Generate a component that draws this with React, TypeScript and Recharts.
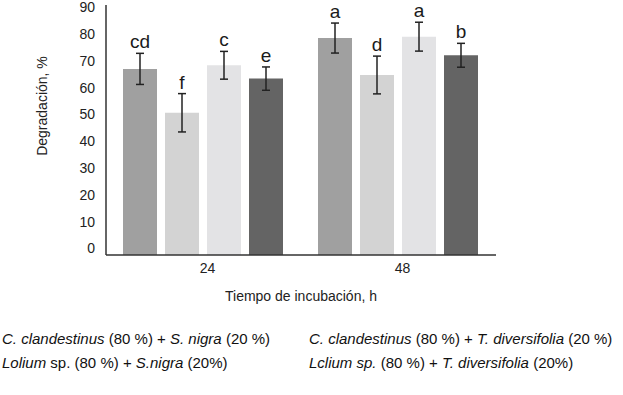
import React from 'react';
import { BarChart, Bar, XAxis, YAxis, ErrorBar, LabelList, Legend } from 'recharts';

const categories = ['24', '48'];
const seriesNames = [
  'C. clandestinus (80 %) + S. nigra (20 %)',
  'Lolium sp. (80 %) + S.nigra (20%)',
  'C. clandestinus (80 %) + T. diversifolia (20 %)',
  'Lclium sp. (80 %) + T. diversifolia (20%)',
];
const s1 = [67.0, 78.1];
const s2 = [51.2, 64.8];
const s3 = [68.3, 78.6];
const s4 = [63.5, 71.9];
const e1 = [5.6, 5.4];
const e2 = [6.9, 6.8];
const e3 = [5.0, 5.2];
const e4 = [4.2, 4.3];
const l1 = ['cd', 'a'];
const l2 = ['f', 'd'];
const l3 = ['c', 'a'];
const l4 = ['e', 'b'];
const yTicks = [0, 10, 20, 30, 40, 50, 60, 70, 80, 90];

const colors = ['#a0a0a0', '#d3d3d3', '#e3e3e5', '#646464'];
const values = [s1, s2, s3, s4];
const errors = [e1, e2, e3, e4];
const letters = [l1, l2, l3, l4];

const data = categories.map((c, i) => ({
  cat: c,
  v0: s1[i], err0: e1[i],
  v1: s2[i], err1: e2[i],
  v2: s3[i], err2: e3[i],
  v3: s4[i], err3: e4[i],
}));

const FONT = '"Liberation Sans", Arial, sans-serif';

const makeLetter = (k: number) => (props: any) => {
  const { x, y, width, height, index } = props;
  const val = values[k][index];
  const err = errors[k][index];
  const ppu = height / val;
  const top = y - err * ppu;
  return (
    <text x={x + width / 2} y={top - 5} textAnchor="middle" fontSize={19} fill="#1a1a1a" fontFamily={FONT}>
      {letters[k][index]}
    </text>
  );
};

const YTick = (props: any) => {
  const { y, payload } = props;
  const ly = 7.3 + (y - 5) * (241 / 250);
  return (
    <text x={95} y={ly} textAnchor="end" dominantBaseline="central" fontSize={14} fill="#222" fontFamily={FONT}>
      {payload.value}
    </text>
  );
};

const LegendContent = () => {
  const item = (parts: Array<[string, boolean]>) => (
    <span>
      {parts.map((p, i) => (
        <span key={i} style={{ fontStyle: p[1] ? 'italic' : 'normal' }}>{p[0]}</span>
      ))}
    </span>
  );
  const rowStyle: React.CSSProperties = { display: 'flex', height: 24, alignItems: 'center' };
  const col1: React.CSSProperties = { width: 309, paddingLeft: 2, boxSizing: 'border-box' };
  return (
    <div style={{ fontFamily: FONT, fontSize: 15, color: '#111', whiteSpace: 'nowrap' }}>
      <div style={rowStyle}>
        <div style={col1}>
          {item([['C. clandestinus', true], [' (80 %) + ', false], ['S. nigra', true], [' (20 %)', false]])}
        </div>
        <div>
          {item([['C. clandestinus', true], [' (80 %) + ', false], ['T. diversifolia', true], [' (20 %)', false]])}
        </div>
      </div>
      <div style={rowStyle}>
        <div style={col1}>
          {item([['Lolium', true], [' sp. (80 %) + ', false], ['S.nigra', true], [' (20%)', false]])}
        </div>
        <div>
          {item([['Lclium sp.', true], [' (80 %) + ', false], ['T. diversifolia', true], [' (20%)', false]])}
        </div>
      </div>
    </div>
  );
};

export default function App() {
  return (
    <div style={{ position: 'absolute', left: 0, top: 0, background: '#fff' }}>
      <BarChart
        width={623}
        height={395}
        data={data}
        margin={{ top: 5, right: 127, left: 0, bottom: 90 }}
        barCategoryGap={17}
        barGap={8}
        style={{ fontFamily: FONT }}
      >
        <XAxis
          dataKey="cat"
          height={50}
          axisLine={{ stroke: '#333', strokeWidth: 1.5 }}
          tickLine={false}
          tick={{ fontSize: 14, fill: '#222', dx: 4, fontFamily: FONT }}
          label={{ value: 'Tiempo de incubación, h', position: 'insideBottom', offset: 4, fontSize: 14, fill: '#222', fontFamily: FONT }}
        />
        <YAxis
          width={106}
          domain={[0, 90]}
          ticks={yTicks}
          interval={0}
          axisLine={{ stroke: '#333', strokeWidth: 1.5 }}
          tickLine={false}
          tick={<YTick />}
          label={{
            content: () => (
              <text x={42} y={106} transform="rotate(-90, 42, 106)" textAnchor="middle" dominantBaseline="central" fontSize={14} fill="#222" fontFamily={FONT}>
                Degradación, %
              </text>
            ),
          }}
        />
        <Legend
          layout="horizontal"
          verticalAlign="middle"
          align="center"
          content={<LegendContent />}
          wrapperStyle={{ position: 'absolute', left: 0, top: 326, width: 623 }}
        />
        {[0, 1, 2, 3].map((k) => (
          <Bar key={k} dataKey={`v${k}`} name={seriesNames[k]} fill={colors[k]} isAnimationActive={false}>
            <ErrorBar dataKey={`err${k}`} width={4} stroke="#222" strokeWidth={1.5} direction="y" />
            <LabelList dataKey={`v${k}`} content={makeLetter(k)} />
          </Bar>
        ))}
      </BarChart>
    </div>
  );
}
